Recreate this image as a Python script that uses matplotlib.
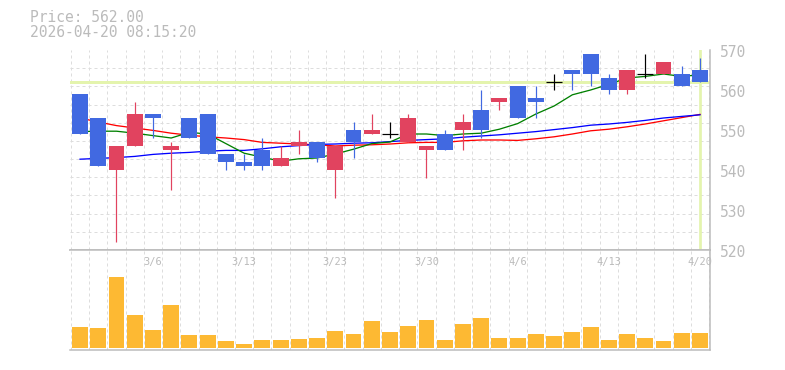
import matplotlib
matplotlib.use("Agg")
import matplotlib.pyplot as plt
import matplotlib.transforms as mtransforms
from matplotlib.ticker import FixedLocator, MultipleLocator, NullFormatter
import numpy as np

# daily bars, 3/2 .. 4/20 (3/20 holiday)
dates = ["3/2", "3/3", "3/4", "3/5", "3/6", "3/9", "3/10", "3/11", "3/12", "3/13",
         "3/16", "3/17", "3/18", "3/19", "3/23", "3/24", "3/25", "3/26", "3/27",
         "3/30", "3/31", "4/1", "4/2", "4/3", "4/6", "4/7", "4/8", "4/9", "4/10",
         "4/13", "4/14", "4/15", "4/16", "4/17", "4/20"]
label_dates = ["3/6", "3/13", "3/23", "3/30", "4/6", "4/13", "4/20"]

opens = [559, 553, 540, 546, 554, 545, 553, 554, 544, 542, 545, 541, 546, 547, 540,
         550, 549, 549, 547, 545, 549, 550, 555, 557, 561, 558, 562, 565, 569, 563,
         560, 564, 564, 564, 565]
highs = [559, 553, 546, 557, 554, 547, 553, 554, 544, 544, 548, 546, 550, 547, 546,
         552, 554, 552, 554, 546, 550, 554, 560, 558, 561, 561, 564, 565, 569, 564,
         565, 569, 567, 566, 568]
lows = [549, 541, 522, 546, 548, 535, 548, 544, 540, 540, 540, 541, 544, 542, 533,
        543, 549, 548, 547, 538, 545, 545, 548, 555, 553, 553, 560, 560, 561, 559,
        559, 563, 564, 561, 562]
closes = [549, 541, 546, 554, 553, 546, 548, 544, 542, 541, 541, 543, 547, 543, 546,
          547, 550, 549, 553, 546, 545, 552, 550, 558, 553, 557, 562, 564, 564, 560,
          565, 564, 567, 561, 562]

ma5 = [549.6, 549.7, 549.7, 549.2, 548.6, 548.0, 549.4, 549.0, 546.6, 544.2, 543.2,
       542.2, 542.8, 543.0, 544.0, 545.2, 546.6, 547.0, 549.0, 549.0, 548.6, 549.0,
       549.2, 550.2, 551.6, 554.0, 556.0, 558.8, 560.0, 561.4, 563.0, 563.4, 564.0,
       563.4, 563.8]
ma25 = [553.0, 552.0, 551.1, 550.5, 549.9, 549.2, 548.7, 548.3, 548.0, 547.6, 546.9,
        546.7, 546.5, 546.3, 546.0, 546.2, 546.3, 546.5, 546.8, 546.9, 546.9, 547.3,
        547.5, 547.5, 547.4, 547.8, 548.3, 549.0, 549.8, 550.2, 550.8, 551.5, 552.3,
        553.1, 553.9]
ma75 = [542.7, 542.9, 543.1, 543.4, 543.9, 544.2, 544.4, 544.7, 544.9, 544.9, 545.3,
        545.8, 546.1, 546.4, 546.5, 546.7, 546.8, 547.1, 547.4, 547.6, 547.8, 548.2,
        548.5, 548.8, 549.2, 549.6, 550.1, 550.6, 551.2, 551.5, 551.9, 552.4, 553.0,
        553.4, 553.8]
# thousand shares
volume = [20.7, 19.7, 70.7, 32.7, 17.7, 42.7, 12.7, 12.7, 6.7, 3.7, 7.7, 7.7, 8.7,
          9.7, 16.7, 13.7, 26.7, 15.7, 21.7, 27.7, 7.7, 23.7, 29.7, 9.7, 9.7, 13.7,
          11.7, 15.7, 20.7, 7.7, 13.7, 9.7, 6.7, 14.7, 14.7]

last_price = 562.00
stamp = "2026-04-20 08:15:20"

UP = "#e1435f"
DOWN = "#4169e1"
VOL = "#fdb933"
HILITE = "#e4f4ad"
GRID = "#dddddd"
FRAME = "#bbbbbb"
TEXT = "#bbbbbb"
MONO = "DejaVu Sans Mono"
PX = 0.72  # one pixel in points at 100 dpi

W, H = 785, 370
fig = plt.figure(figsize=(W / 100, H / 100), dpi=100)
ax = fig.add_axes([70 / W, 120 / H, 640 / W, 200 / H])
axv = fig.add_axes([70 / W, 20 / H, 640 / W, 100 / H], sharex=ax)

x = np.arange(len(dates))
o, h, l, c = (np.array(a, dtype=float) for a in (opens, highs, lows, closes))
body_w = 0.87

for a in (ax, axv):
    a.xaxis.set_minor_locator(FixedLocator(np.arange(-0.5, len(dates), 1.0)))
    a.grid(axis="x", which="minor", color=GRID, lw=PX, ls=(0, (3, 3)), zorder=0)
    a.tick_params(which="both", length=0, labelbottom=False, labelleft=False)
    a.spines["left"].set_visible(False)
    for s in ("top", "bottom", "right"):
        a.spines[s].set_color(FRAME)
        a.spines[s].set_linewidth(1.5 * PX)
    a.set_axisbelow(True)

ax.spines["top"].set_visible(False)
ax.set_xlim(-0.55, len(dates) - 0.45)
ax.set_ylim(520, 570)
ax.yaxis.set_major_locator(MultipleLocator(10))
ax.yaxis.set_minor_locator(FixedLocator(np.linspace(520, 570, 12)))
ax.yaxis.set_major_formatter(NullFormatter())
ax.grid(axis="y", which="minor", color=GRID, lw=PX, ls=(0, (3, 3)), zorder=0)

# price labels on the right
shift = mtransforms.ScaledTranslation(10 / 100, -2.5 / 100, fig.dpi_scale_trans)
for v in range(520, 571, 10):
    ax.text(1.0, v, f"{v}", transform=ax.get_yaxis_transform() + shift,
            ha="left", va="center", fontsize=10.5, color=TEXT, family=MONO)

# current price guide lines
ax.axhline(last_price, color=HILITE, lw=3 * PX, zorder=1)
ax.axvline(x[-1], color=HILITE, lw=2.7 * PX, zorder=1)

# moving averages
ax.plot(x, ma25, color="#ff0000", lw=1.3 * PX, zorder=2)
ax.plot(x, ma75, color="#0000ff", lw=1.3 * PX, zorder=2)
ax.plot(x, ma5, color="#008000", lw=1.3 * PX, zorder=2)

# candles
up = c > o
down = c < o
flat = c == o
for mask, col in ((up, UP), (down, DOWN)):
    ax.vlines(x[mask], l[mask], h[mask], color=col, lw=1.2 * PX, zorder=3)
    ax.bar(x[mask], (c - o)[mask], bottom=o[mask], width=body_w, color=col,
           linewidth=0, zorder=4)
ax.vlines(x[flat], l[flat], h[flat], color="black", lw=1.2 * PX, zorder=4)
ax.hlines(c[flat], x[flat] - body_w / 2, x[flat] + body_w / 2, color="black",
          lw=1.2 * PX, zorder=4)

# volume
axv.bar(x, volume, width=body_w, color=VOL, linewidth=0, zorder=2)
axv.set_ylim(-2.2, 97.8)
for d in label_dates:
    axv.text(dates.index(d), 0.877, d, transform=axv.get_xaxis_transform(),
             ha="center", va="center", fontsize=7.5, color=TEXT, family=MONO,
             zorder=5)

fig.text(30 / W, 1 - 22.3 / H, f"Price: {last_price:.2f}", va="baseline",
         fontsize=10.5, color=TEXT, family=MONO)
fig.text(30 / W, 1 - 37.3 / H, stamp, va="baseline",
         fontsize=10.5, color=TEXT, family=MONO)

fig.savefig("out.png", dpi=100)
plt.close(fig)
